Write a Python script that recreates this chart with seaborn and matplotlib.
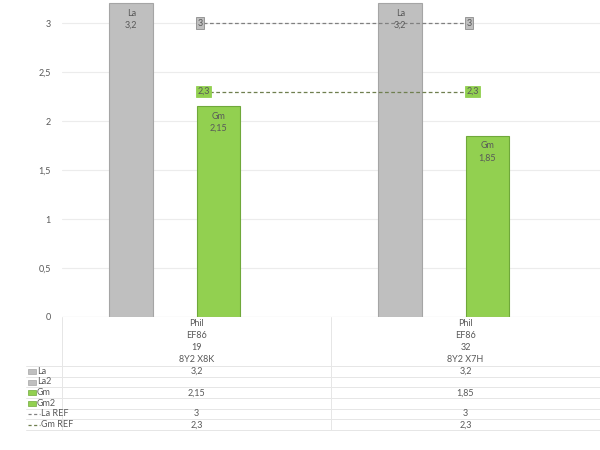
import matplotlib
matplotlib.use('Agg')
import matplotlib.pyplot as plt
import matplotlib.transforms as mtransforms
import numpy as np
import pandas as pd
import seaborn as sns

# data
categories = ['Phil\nEF86\n19\n8Y2 X8K', 'Phil\nEF86\n32\n8Y2 X7H']
header_lines = [['Phil', 'EF86', '19', '8Y2 X8K'], ['Phil', 'EF86', '32', '8Y2 X7H']]
series_names = ['La', 'La2', 'Gm', 'Gm2']
la_values = [3.2, 3.2]
la2_values = [np.nan, np.nan]
gm_values = [2.15, 1.85]
gm2_values = [np.nan, np.nan]
la_ref = [3, 3]
gm_ref = [2.3, 2.3]

bar_colors = {'La': '#bfbfbf', 'La2': '#bfbfbf', 'Gm': '#92d050', 'Gm2': '#92d050'}
edge_colors = {'La': '#a5a5a5', 'La2': '#a5a5a5', 'Gm': '#6fa83a', 'Gm2': '#6fa83a'}
text_col = '#595959'


def fmt(v):
    if v is None or (isinstance(v, float) and np.isnan(v)):
        return ''
    s = ('%g' % v)
    return s.replace('.', ',')


def plot_chart():
    sns.set_style('white')
    plt.rcParams['font.family'] = ['Lato', 'DejaVu Sans']

    df = pd.DataFrame({
        'cat': categories * 4,
        'serie': [s for s in series_names for _ in categories],
        'val': la_values + la2_values + gm_values + gm2_values,
    })

    fig = plt.figure(figsize=(6, 4.5), dpi=100)
    ax = fig.add_axes([62 / 600, 133 / 450, 538 / 600, 317 / 450])
    sns.barplot(data=df, x='cat', y='val', hue='serie', hue_order=series_names,
                order=categories, palette=bar_colors, width=0.647, dodge=True,
                saturation=1, errorbar=None, legend=False, ax=ax, linewidth=0.8)
    # edge colors by series
    for cont, name in zip(ax.containers, series_names):
        for p in cont.patches:
            p.set_edgecolor(edge_colors[name])
        # labels inside bars
        for p, v in zip(cont.patches, cont.datavalues):
            if np.isnan(v):
                continue
            ax.annotate(name + '\n' + fmt(v), (p.get_x() + p.get_width() / 2, v),
                        xytext=(0, -4), textcoords='offset points', ha='center',
                        va='top', fontsize=6.5, color=text_col, linespacing=1.45)

    xs = np.arange(len(categories))
    ax.plot(xs, la_ref, ls=(0, (3, 2)), color='#808080', lw=0.9)
    ax.plot(xs, gm_ref, ls=(0, (3, 2)), color='#6f7f4f', lw=0.9)
    for x, v in zip(xs, la_ref):
        ax.text(x + 0.003, v, fmt(v), ha='left', va='center', fontsize=6.5, color=text_col,
                bbox=dict(boxstyle='square,pad=0.15', fc='#bfbfbf', ec='#8c8c8c', lw=0.6))
    for x, v in zip(xs, gm_ref):
        ax.text(x + 0.003, v, fmt(v), ha='left', va='center', fontsize=6.5, color=text_col,
                bbox=dict(boxstyle='square,pad=0.15', fc='#92d050', ec='#92d050', lw=0.6))

    ax.set_xlim(-0.5, 1.5)
    ax.set_ylim(0, 3.235)
    ax.set_yticks(np.arange(0, 3.01, 0.5))
    ax.set_yticklabels([fmt(t) if t != 0 else '0' for t in np.arange(0, 3.01, 0.5)],
                       fontsize=6.5, color=text_col)
    ax.tick_params(axis='y', length=0, pad=8)
    ax.set_xticks([])
    ax.set_xlabel('')
    ax.set_ylabel('')
    ax.grid(axis='y', color='#ececec', lw=0.8)
    ax.set_axisbelow(True)
    for s in ax.spines.values():
        s.set_visible(False)
    ax.axhline(0, color='#d9d9d9', lw=0.8)

    # data table under the chart: x in data coords, y in figure pixels from top
    trans = mtransforms.blended_transform_factory(ax.transData, fig.transFigure)
    ftrans = fig.transFigure

    def fy(py):
        return 1 - py / 450

    header_y = [323.7, 335.7, 347.7, 359.7]
    for i, lines in enumerate(header_lines):
        for line, py in zip(lines, header_y):
            fig.text(xs[i], fy(py), line, transform=trans, ha='center', va='center',
                     fontsize=6.5, color=text_col)

    row_names = ['La', 'La2', 'Gm', 'Gm2', 'La REF', 'Gm REF']
    row_values = [la_values, la2_values, gm_values, gm2_values, la_ref, gm_ref]
    row_y = [371.3, 382.0, 392.7, 403.3, 414.0, 424.7]
    grid_c = '#e6e6e6'
    lines_y = [366.0, 376.7, 387.3, 398.0, 408.7, 419.3, 430.0]
    for ly in lines_y:
        fig.add_artist(plt.Line2D([26 / 600, 1], [fy(ly), fy(ly)], transform=ftrans,
                                  color=grid_c, lw=0.7))
    for vx in [62, 331, 599.5]:
        fig.add_artist(plt.Line2D([vx / 600, vx / 600], [fy(317), fy(430)], transform=ftrans,
                                  color=grid_c, lw=0.7))

    for name, vals, py in zip(row_names, row_values, row_y):
        if 'REF' in name:
            col = '#808080' if name.startswith('La') else '#6f7f4f'
            fig.add_artist(plt.Line2D([28 / 600, 40 / 600], [fy(py), fy(py)], transform=ftrans,
                                      color=col, lw=0.9, ls=(0, (2.5, 2))))
            tx = 41
        else:
            fig.add_artist(plt.Rectangle((28 / 600, fy(py + 2.5)), 8 / 600, 5 / 450,
                                         transform=ftrans, fc=bar_colors[name],
                                         ec=edge_colors[name], lw=0.5))
            tx = 37
        fig.text(tx / 600, fy(py), name, transform=ftrans, ha='left', va='center',
                 fontsize=6.5, color=text_col)
        for i, v in enumerate(vals):
            fig.text(xs[i], fy(py), fmt(v), transform=trans, ha='center', va='center',
                     fontsize=6.5, color=text_col)

    fig.savefig('out.png', dpi=100)


if __name__ == '__main__':
    plot_chart()
